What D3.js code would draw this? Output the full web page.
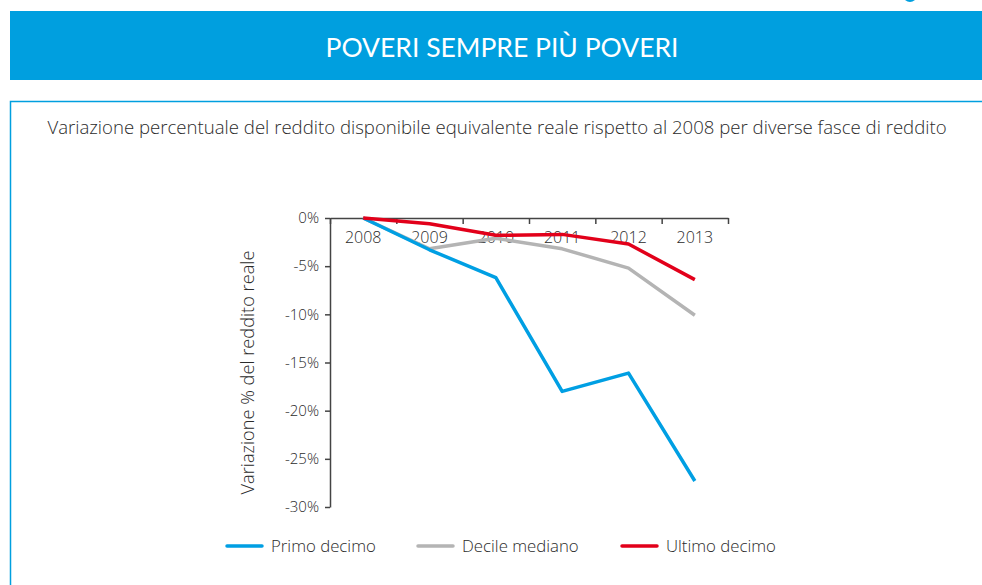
<!DOCTYPE html>
<html>
<head>
<meta charset="utf-8">
<script src="https://cdn.jsdelivr.net/npm/d3@7"></script>
<style>
  body { margin: 0; background: #fff; }
  svg { display: block; font-family: "Open Sans", Lato, sans-serif; font-weight: 300; }
</style>
</head>
<body>
<svg id="chart" width="982" height="585"></svg>
<script>
const years = ['2008', '2009', '2010', '2011', '2012', '2013'];
const primoDecimo = [0, -3.3, -6.2, -18.0, -16.1, -27.3];
const decileMediano = [0, -3.2, -2.1, -3.2, -5.2, -10.1];
const ultimoDecimo = [0, -0.6, -1.8, -1.7, -2.7, -6.4];
const yTicks = [0, -5, -10, -15, -20, -25, -30];
const seriesNames = ['Primo decimo', 'Decile mediano', 'Ultimo decimo'];
const seriesColors = ['#009fe3', '#b4b4b4', '#e2001a'];

const svg = d3.select('#chart');
const blue = '#009fdf';
const textColor = '#2b2b2b';

// header band
svg.append('rect').attr('x', 10).attr('y', 11).attr('width', 972).attr('height', 69).attr('fill', blue);
svg.append('text')
  .attr('x', 502).attr('y', 57)
  .attr('text-anchor', 'middle')
  .attr('fill', '#fff')
  .style('font-family', 'Lato, sans-serif')
  .style('font-weight', 400)
  .style('font-size', '26.5px')
  .text('POVERI SEMPRE PIÙ POVERI');

// little blue mark at top right
svg.append('path').attr('d', 'M905,0 Q910,4 915,0 Z').attr('fill', blue);

// framed panel
svg.append('path')
  .attr('d', 'M10.5,585 L10.5,101.5 L982,101.5')
  .attr('fill', 'none')
  .attr('stroke', blue)
  .attr('stroke-width', 1.5);

svg.append('text')
  .attr('x', 497).attr('y', 134)
  .attr('text-anchor', 'middle')
  .attr('fill', textColor)
  .style('font-size', '18.6px')
  .text('Variazione percentuale del reddito disponibile equivalente reale rispetto al 2008 per diverse fasce di reddito');

const x0 = 330, x1 = 728;
const x = d3.scaleBand().domain(years).range([x0, x1]);
const y = d3.scaleLinear().domain([-30, 0]).range([507, 218]);

const axisColor = '#444';

// x axis with ticks at band boundaries
const xEdge = d3.scaleLinear().domain([0, years.length]).range([x0, x1]);
const gxTicks = svg.append('g')
  .attr('transform', `translate(0,${y(0)})`)
  .call(d3.axisBottom(xEdge).tickValues(d3.range(years.length + 1)).tickSize(6).tickSizeOuter(0).tickFormat(''));
gxTicks.selectAll('path, line').attr('stroke', axisColor).attr('stroke-width', 1.5);

const gxLabels = svg.append('g')
  .attr('transform', `translate(0,${y(0)})`)
  .call(d3.axisBottom(x).tickSize(0).tickPadding(14));
gxLabels.select('.domain').remove();
gxLabels.selectAll('text')
  .attr('fill', textColor)
  .style('font-size', '16px')
  .style('font-family', '"Open Sans", sans-serif');

// y axis
const gy = svg.append('g')
  .attr('transform', `translate(${x0},0)`)
  .call(d3.axisLeft(y).tickValues(yTicks).tickSize(5).tickSizeOuter(0).tickPadding(6)
    .tickFormat(d => (d < 0 ? '-' + Math.abs(d) : d) + '%'));
gy.selectAll('path, line').attr('stroke', axisColor).attr('stroke-width', 1.5);
gy.selectAll('text')
  .attr('fill', textColor)
  .style('font-size', '15px')
  .style('font-family', '"Open Sans", sans-serif');

svg.append('text')
  .attr('transform', `translate(254,${(y(0) + y(-30)) / 2 + 10}) rotate(-90)`)
  .attr('text-anchor', 'middle')
  .attr('fill', textColor)
  .style('font-size', '18.2px')
  .text('Variazione % del reddito reale');

// lines
const line = d3.line()
  .x((d, i) => x(years[i]) + x.bandwidth() / 2)
  .y(d => y(d));

const seriesValues = [primoDecimo, decileMediano, ultimoDecimo];
// grey first, then blue, then red on top
[1, 0, 2].forEach(k => {
  svg.append('path')
    .datum(seriesValues[k])
    .attr('d', line)
    .attr('fill', 'none')
    .attr('stroke', seriesColors[k])
    .attr('stroke-width', 3.5)
    .attr('stroke-linejoin', 'round');
});

// legend
const legendX = [227, 418, 622];
const legend = svg.append('g').attr('transform', 'translate(0,546)');
seriesNames.forEach((name, i) => {
  legend.append('line')
    .attr('x1', legendX[i]).attr('x2', legendX[i] + 35)
    .attr('y1', 0).attr('y2', 0)
    .attr('stroke', seriesColors[i])
    .attr('stroke-width', 3.5)
    .attr('stroke-linecap', 'round');
  legend.append('text')
    .attr('x', legendX[i] + 44).attr('y', 6)
    .attr('fill', textColor)
    .style('font-size', '16.8px')
    .text(name);
});
</script>
</body>
</html>
